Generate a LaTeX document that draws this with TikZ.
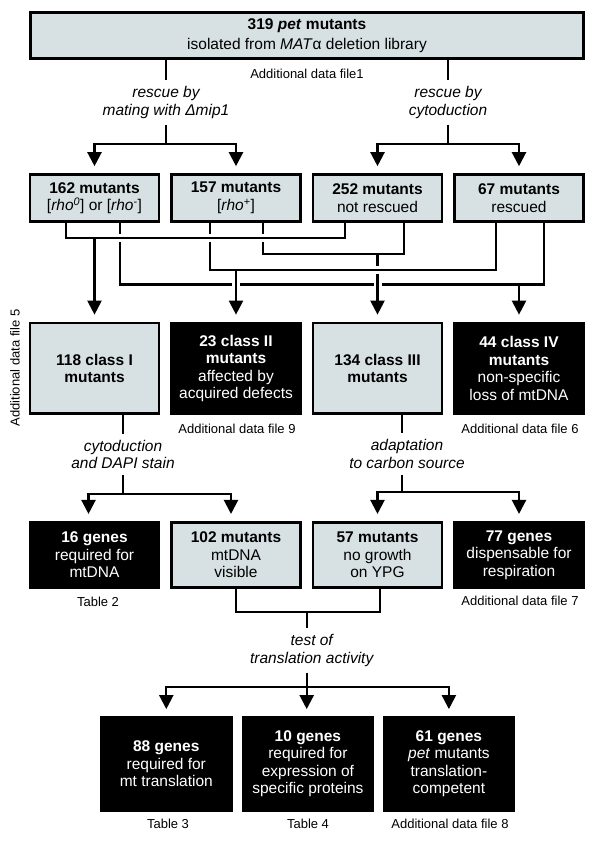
\documentclass[tikz,border=0pt]{standalone}
\usepackage{fontspec}
\setmainfont{Liberation Sans}
\usetikzlibrary{arrows.meta}
\definecolor{boxgray}{RGB}{215,225,228}
\newcommand{\boxfont}{\fontsize{15.5}{17.5}\selectfont}
\newcommand{\notefont}{\fontsize{13}{15}\selectfont}

\begin{document}
\begin{tikzpicture}[x=1pt,y=-1pt,
  lightbox/.style={draw,line width=2.6pt,fill=boxgray,align=center,inner sep=0pt,minimum width=129pt,font=\boxfont},
  darkbox/.style={draw,line width=2.6pt,fill=black,text=white,align=center,inner sep=0pt,minimum width=129pt,font=\boxfont},
  method/.style={align=center,inner sep=6pt,font=\boxfont\itshape},
  note/.style={inner sep=0pt,font=\notefont},
  wire/.style={line width=2.2pt},
  arr/.style={wire,-{Triangle[width=14pt,length=14pt]},shorten >=7pt},
  halo/.style={preaction={draw=white,line width=8pt,shorten <=4pt,shorten >=4pt,-}}]
\useasboundingbox (0,0) rectangle (600,841);
% Top box
\node[lightbox,minimum width=553.4pt,minimum height=46.5pt] (pet) at (307,35.5)
  {\textbf{319 \textit{pet} mutants}\\[2.5pt]isolated from \textit{MAT}α deletion library};
\node[note] (adf1) at (307,74) {Additional data file1};
\node[method] (resc1) at (166,102.5) {rescue by\\mating with Δmip1};
\node[method] (resc2) at (448,102.5) {rescue by\\cytoduction};
% Second row: rescue results
\node[lightbox,minimum height=47pt] (mut162) at (94.5,198)
  {\textbf{162 mutants}\\{}[\textit{rho}\textsuperscript{\textit{0}}] or [\textit{rho}\textsuperscript{-}]};
\node[lightbox,minimum height=47pt] (mut157) at (236,198)
  {\textbf{157 mutants}\\{}[\textit{rho}\textsuperscript{+}]};
\node[lightbox,minimum height=47pt] (mut252) at (377.5,198) {\textbf{252 mutants}\\not rescued};
\node[lightbox,minimum height=47pt] (mut67) at (519,198) {\textbf{67 mutants}\\rescued};
% Third row: classes
\node[lightbox,minimum height=90.7pt] (cls1) at (94.5,368.3) {\textbf{118 class I}\\\textbf{mutants}};
\node[darkbox,minimum height=90.7pt] (cls2) at (236,368.3)
  {\textbf{23 class II}\\\textbf{mutants}\\affected by\\acquired defects};
\node[lightbox,minimum height=90.7pt] (cls3) at (377.5,368.3) {\textbf{134 class III}\\\textbf{mutants}};
\node[darkbox,minimum height=90.7pt] (cls4) at (519,368.3)
  {\textbf{44 class IV}\\\textbf{mutants}\\non-specific\\loss of mtDNA};
\node[note,rotate=90] (adf5) at (15,368) {Additional data file 5};
\node[note] (adf9) at (237,429) {Additional data file 9};
\node[note] (adf6) at (520,428.5) {Additional data file 6};
\node[method] (cyto) at (123,454.7) {cytoduction\\and DAPI stain};
\node[method] (adapt) at (407,454) {adaptation\\to carbon source};
% Fourth row
\node[darkbox,minimum height=65.5pt] (gen16) at (94.5,555) {\textbf{16 genes}\\required for\\mtDNA};
\node[lightbox,minimum height=65.5pt] (mut102) at (236,555) {\textbf{102 mutants}\\mtDNA\\visible};
\node[lightbox,minimum height=65.5pt] (mut57) at (377.5,555) {\textbf{57 mutants}\\no growth\\on YPG};
\node[darkbox,minimum height=65.5pt] (gen77) at (519,555) {\textbf{77 genes}\\dispensable for\\respiration};
\node[note] (tab2) at (98,601.5) {Table 2};
\node[note] (adf7) at (520,601) {Additional data file 7};
\node[method] (trans) at (311.7,650.5) {test of\\translation activity};
% Bottom row
\node[darkbox,minimum width=130pt,minimum height=93pt] (gen88) at (166.3,763.9)
  {\textbf{88 genes}\\required for\\mt translation};
\node[darkbox,minimum width=130pt,minimum height=93pt] (gen10) at (307.9,763.9)
  {\textbf{10 genes}\\required for\\expression of\\specific proteins};
\node[darkbox,minimum width=130pt,minimum height=93pt] (gen61) at (448.9,763.9)
  {\textbf{61 genes}\\\textit{pet} mutants\\translation-\\competent};
\node[note] (tab3) at (168,824) {Table 3};
\node[note] (tab4) at (308,824) {Table 4};
\node[note] (adf8) at (450,824) {Additional data file 8};

% Rescue tests split the 319 mutants
\coordinate (j1) at (166,144);
\coordinate (j2) at (448,144);
\draw[wire] (pet.south -| resc1) -- (resc1.north);
\draw[wire] (resc1.south) -- (j1);
\draw[arr] (j1) -| (mut162.north);
\draw[arr] (j1) -| (mut157.north);
\draw[wire] (pet.south -| resc2) -- (resc2.north);
\draw[wire] (resc2.south) -- (j2);
\draw[arr] (j2) -| (mut252.north);
\draw[arr] (j2) -| (mut67.north);

% Combining both tests into four classes
\coordinate (a1) at (66,238);
\coordinate (a2) at (345,238);
\coordinate (d1) at (263,254);
\coordinate (d2) at (404,254);
\coordinate (c1) at (210,270);
\coordinate (c2) at (496,270);
\coordinate (b1) at (120,284.5);
\coordinate (b2) at (544,284.5);
\draw[wire] (mut162.south -| b1) -- (b1) -- (b2) -- (mut67.south -| b2);
\draw[arr,halo] (cls3 |- d1) -- (cls3.north);
\draw[wire,halo] (mut157.south -| c1) -- (c1) -- (c2) -- (mut67.south -| c2);
\draw[arr,halo] (cls2 |- c1) -- (cls2.north);
\draw[wire] (mut157.south -| d1) -- (d1) -- (d2) -- (mut252.south -| d2);
\draw[wire,halo] (mut162.south -| a1) -- (a1) -- (a2) -- (mut252.south -| a2);
\draw[arr] (cls1 |- a1) -- (cls1.north);
\draw[arr] (cls4 |- b1) -- (cls4.north);

% Class I and class III are tested further
\coordinate (j3) at (122.7,494);
\coordinate (j4) at (401.7,492);
\draw[wire] (cls1.south -| j3) -- (cyto.north -| j3);
\draw[wire] (cyto.south -| j3) -- (j3);
\draw[arr] (j3) -| ([xshift=-6pt]gen16.north);
\draw[arr] (j3) -| ([xshift=-5pt]mut102.north);
\draw[wire] (cls3.south -| j4) -- (adapt.north -| j4);
\draw[wire] (adapt.south -| j4) -- (j4);
\draw[arr] (j4) -| (mut57.north);
\draw[arr] (j4) -| (gen77.north);

% Translation test
\coordinate (k1) at (306.7,612);
\coordinate (k2) at (306.7,686.7);
\draw[wire] (mut102.south) |- (k1) -| ([xshift=2.5pt]mut57.south);
\draw[wire] (k1) -- (trans.north -| k1);
\draw[wire] (trans.south -| k1) -- (k2);
\draw[arr] (k2) -| (gen88.north);
\draw[arr] (k2) -- (k2 |- gen10.north);
\draw[arr] (k2) -| (gen61.north);
\end{tikzpicture}
\end{document}
